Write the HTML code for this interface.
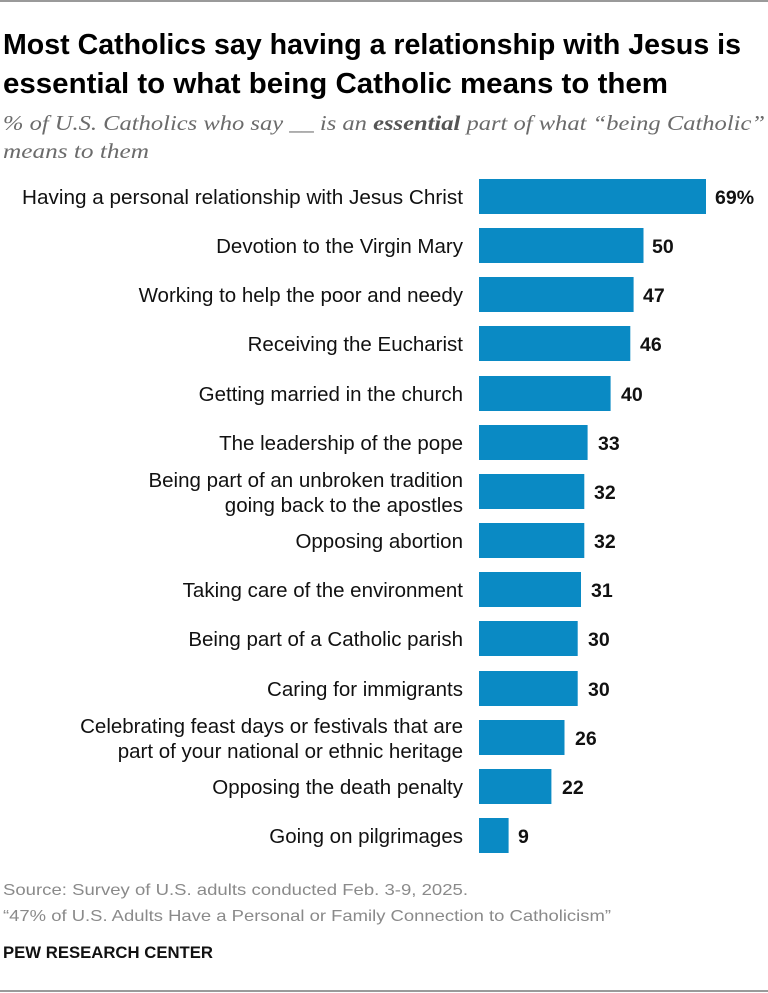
<!DOCTYPE html>
<html><head><meta charset="utf-8"><style>
html,body{margin:0;padding:0;background:#fff;}
svg{display:block;}
.t{font-family:"Liberation Sans Narrow","Liberation Sans",sans-serif;font-weight:bold;font-size:29px;fill:#000;}
.s{font-family:"Liberation Serif",serif;font-style:italic;font-size:21px;fill:#6b6b6b;}
.l{font-family:"Liberation Sans",sans-serif;font-size:20.5px;fill:#111;}
.v{font-family:"Liberation Sans",sans-serif;font-weight:bold;font-size:19.5px;fill:#111;}
.src{font-family:"Liberation Sans Narrow","Liberation Sans",sans-serif;font-size:16px;fill:#8a8a8a;}
.p{font-family:"Liberation Sans Narrow","Liberation Sans",sans-serif;font-weight:bold;font-size:17px;fill:#111;}
</style></head><body>
<svg width="768" height="993" viewBox="0 0 768 993" xmlns="http://www.w3.org/2000/svg">
<rect x="0" y="0" width="768" height="2" fill="#9a9a9a"/>
<rect x="0" y="990" width="768" height="2" fill="#9a9a9a"/>
<text class="t" x="3" y="54" textLength="738" lengthAdjust="spacingAndGlyphs">Most Catholics say having a relationship with Jesus is</text>
<text class="t" x="3" y="93" textLength="665" lengthAdjust="spacingAndGlyphs">essential to what being Catholic means to them</text>
<text class="s" x="3" y="130" textLength="762" lengthAdjust="spacingAndGlyphs">% of U.S. Catholics who say __ is an <tspan font-weight="bold" fill="#555">essential</tspan> part of what “being Catholic”</text>
<text class="s" x="3" y="158" textLength="146" lengthAdjust="spacingAndGlyphs">means to them</text>
<g fill="#0a8ac4">
<rect x="479" y="179" width="227" height="35"/>
<rect x="479" y="228" width="164.5" height="35"/>
<rect x="479" y="277" width="154.6" height="35"/>
<rect x="479" y="326" width="151.3" height="35"/>
<rect x="479" y="376" width="131.6" height="35"/>
<rect x="479" y="425" width="108.6" height="35"/>
<rect x="479" y="474" width="105.3" height="35"/>
<rect x="479" y="523" width="105.3" height="35"/>
<rect x="479" y="572" width="102" height="35"/>
<rect x="479" y="621" width="98.7" height="35"/>
<rect x="479" y="671" width="98.7" height="35"/>
<rect x="479" y="720" width="85.5" height="35"/>
<rect x="479" y="769" width="72.4" height="35"/>
<rect x="479" y="818" width="29.6" height="35"/>
</g>
<g class="l" text-anchor="end">
<text x="463" y="204" textLength="441" lengthAdjust="spacingAndGlyphs">Having a personal relationship with Jesus Christ</text>
<text x="463" y="253">Devotion to the Virgin Mary</text>
<text x="463" y="302">Working to help the poor and needy</text>
<text x="463" y="351">Receiving the Eucharist</text>
<text x="463" y="401">Getting married in the church</text>
<text x="463" y="450">The leadership of the pope</text>
<text x="463" y="487">Being part of an unbroken tradition</text>
<text x="463" y="512">going back to the apostles</text>
<text x="463" y="548">Opposing abortion</text>
<text x="463" y="597">Taking care of the environment</text>
<text x="463" y="646">Being part of a Catholic parish</text>
<text x="463" y="696">Caring for immigrants</text>
<text x="463" y="733">Celebrating feast days or festivals that are</text>
<text x="463" y="758">part of your national or ethnic heritage</text>
<text x="463" y="794">Opposing the death penalty</text>
<text x="463" y="843">Going on pilgrimages</text>
</g>
<g class="v">
<text x="715" y="204">69%</text>
<text x="652" y="253">50</text>
<text x="643" y="302">47</text>
<text x="640" y="351">46</text>
<text x="621" y="401">40</text>
<text x="598" y="450">33</text>
<text x="594" y="499">32</text>
<text x="594" y="548">32</text>
<text x="591" y="597">31</text>
<text x="588" y="646">30</text>
<text x="588" y="696">30</text>
<text x="575" y="745">26</text>
<text x="562" y="794">22</text>
<text x="518" y="843">9</text>
</g>
<text class="src" x="3" y="895" textLength="465" lengthAdjust="spacingAndGlyphs">Source: Survey of U.S. adults conducted Feb. 3-9, 2025.</text>
<text class="src" x="3" y="921" textLength="608" lengthAdjust="spacingAndGlyphs">“47% of U.S. Adults Have a Personal or Family Connection to Catholicism”</text>
<text class="p" x="3" y="958" textLength="210" lengthAdjust="spacingAndGlyphs">PEW RESEARCH CENTER</text>
</svg>
</body></html>
